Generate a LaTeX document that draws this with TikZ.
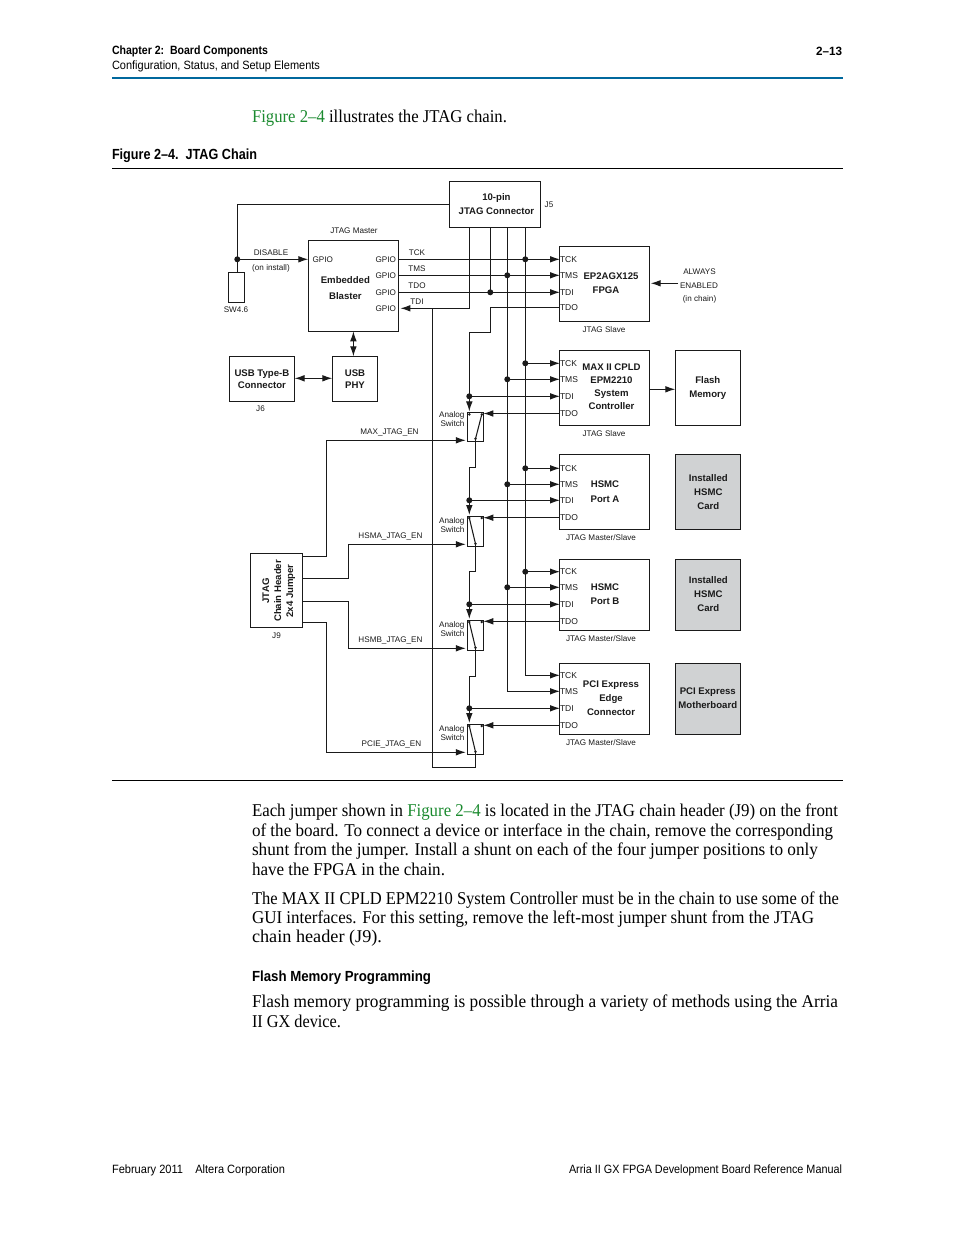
\documentclass[tikz,border=0pt]{standalone}
\usepackage{fontspec}
\usepackage{graphicx}
\usetikzlibrary{arrows.meta,calc}
\setmainfont{Liberation Serif}
\newfontfamily\dsans{Liberation Sans}
\definecolor{altblue}{HTML}{00689D}
\definecolor{altgreen}{HTML}{1B8A2F}
\definecolor{cardgray}{HTML}{D0D2D3}
\definecolor{ink}{HTML}{1A1A1A}
\newlength\pxu \setlength\pxu{0.75pt}
\newsavebox\fitbox \newlength\fitlen
\newcommand\fitw[2]{\sbox\fitbox{#2}\setlength\fitlen{\wd\fitbox}\pgfmathsetmacro\fitr{#1*0.75/\fitlen}\scalebox{\fitr}[1]{\usebox\fitbox}}
\tikzset{
  jbox/.style={draw=ink,line width=0.8pt,inner sep=0pt,outer sep=0pt,font=\dsans\bfseries\fontsize{7.2}{10.5}\selectfont,text=ink},
  card/.style={jbox,fill=cardgray},
  small/.style={inner sep=0pt,outer sep=0pt,font=\dsans\fontsize{6.1}{7}\selectfont,text=ink},
  pinlab/.style={small,font=\dsans\fontsize{6.4}{7}\selectfont,anchor=west},
  conn/.style={draw=ink,line width=0.8pt},
  arr/.style={conn,-{Latex[length=7.5pt,width=5pt]}},
  barr/.style={conn,{Latex[length=7.5pt,width=5pt]}-{Latex[length=7.5pt,width=5pt]}},
  body/.style={inner sep=0pt,outer sep=0pt,anchor=base west,font=\fontsize{13.5}{15}\selectfont,text=black},
  head/.style={inner sep=0pt,outer sep=0pt,font=\dsans\fontsize{9}{11}\selectfont,text=black},
  headb/.style={head,font=\dsans\bfseries\fontsize{9}{11}\selectfont},
  headl/.style={head,font=\dsans\bfseries\fontsize{11}{12}\selectfont}
}
\newcommand\off[3]{\raisebox{-#2\pxu}[0pt][0pt]{\raisebox{-2.6\pxu}[0pt][0pt]{\makebox[0pt]{\kern #1\pxu\kern #1\pxu\begin{tabular}{@{}c@{}}#3\end{tabular}}}}}
\newcommand\bx[6][jbox]{%
  \pgfmathsetmacro\bw{(#5-#3)*0.75}\pgfmathsetmacro\bh{(#6-#4)*0.75}%
  \pgfmathsetmacro\bcx{(#5+#3)/2}\pgfmathsetmacro\bcy{(#6+#4)/2}%
  \node[#1,minimum width=\bw pt,minimum height=\bh pt] (#2) at (\bcx,\bcy)}
\newcommand\jd[1]{\fill[ink] (#1) circle[radius=3];}
\newcommand\bodyln[4]{\node[body] (#1) at (252,#2) {\fitw{#3}{#4}};}
\newcommand\swt[4]{% name, y1, y2, contact the arm goes to
  \bx{#1}{467.3}{#2}{483.3}{#3}{};
  \coordinate (#1a) at (469.3,#2+1.7);
  \coordinate (#1b) at (481.8,#2+1.7);
  \coordinate (#1c) at (475.5,#3-2.5);
  \fill[ink] (#1a) circle[radius=1.4] (#1b) circle[radius=1.4] (#1c) circle[radius=1.4];
  \draw[conn] (#1c) -- (#1#4);
}
\begin{document}
\begin{tikzpicture}[x=0.75pt,y=-0.75pt]
\useasboundingbox (0,0) rectangle (954,1235);
% ---------- page furniture
\node[headb,anchor=west] (h1) at (112,51) {\fitw{156}{Chapter 2:\ \ Board Components}};
\node[headb,anchor=east] (h2) at (842,51) {\fitw{26}{2–13}};
\node[head,anchor=west] (h3) at (112,66) {\fitw{208}{Configuration, Status, and Setup Elements}};
\coordinate (ruleAL) at (112,78); \coordinate (ruleAR) at (843,78);
\draw[altblue,line width=1.6pt] (ruleAL) -- (ruleAR);
\node[body] (intro) at (252,122.5) {\fitw{255}{\textcolor{altgreen}{Figure 2–4} illustrates the JTAG chain.}};
\node[headl,anchor=west] (figt) at (112,156) {\fitw{145}{Figure 2–4.\ \ JTAG Chain}};
\coordinate (ruleBL) at (112,168.5); \coordinate (ruleBR) at (843,168.5);
\draw[black,line width=0.7pt] (ruleBL) -- (ruleBR);
\coordinate (ruleCL) at (112,780.5); \coordinate (ruleCR) at (843,780.5);
\draw[black,line width=0.7pt] (ruleCL) -- (ruleCR);
% ---------- boxes
\bx{conn10}{449.3}{181.3}{540.6}{227.3}{\off{1.5}{0}{10-pin\\JTAG Connector}};
\bx{blaster}{308.3}{240.7}{398.4}{331.3}{\off{-8}{2}{Embedded\\[2\pxu]Blaster}};
\bx{sw46}{228.7}{272.3}{244.7}{302.3}{};
\bx{usbb}{229.2}{356.3}{294.6}{401.7}{\off{0}{0}{USB Type-B\\[-2\pxu]Connector}};
\bx{usbphy}{332.3}{356.3}{377.7}{401.7}{\off{0}{0}{USB\\[-2\pxu]PHY}};
\bx{fpga}{559.3}{246.3}{649.7}{321.3}{\off{6.5}{-0.5}{EP2AGX125\\FPGA\hspace*{10\pxu}}};
\bx{maxii}{559.3}{350.3}{649.7}{425.3}{\off{7}{-0.5}{MAX II CPLD\\[-1\pxu]EPM2210\\[-1\pxu]System\\[-1\pxu]Controller}};
\bx{flash}{675.3}{350.3}{740.3}{425.3}{\off{0}{0}{Flash\\Memory}};
\bx{hsmca}{559.3}{454.7}{649.7}{529.3}{\off{0.5}{-0.5}{HSMC\\[1\pxu]Port A}};
\bx[card]{carda}{675.3}{454.7}{740.3}{529.3}{\off{0.5}{0}{Installed\\HSMC\\Card}};
\bx{hsmcb}{559.3}{559.3}{649.7}{630.3}{\off{0.5}{0}{HSMC\\Port B}};
\bx[card]{cardb}{675.3}{559.3}{740.3}{630.3}{\off{0.5}{0}{Installed\\HSMC\\Card}};
\bx{pcie}{559.3}{663.3}{649.7}{734.3}{\off{6.5}{0}{PCI Express\\Edge\\Connector}};
\bx[card]{cardp}{675.3}{663.3}{740.3}{734.3}{\off{0}{0}{PCI Express\\Motherboard}};
\bx{jnine}{250.3}{553.3}{302.3}{627.3}{\off{2}{2.5}{\rotatebox{90}{\begin{tabular}{@{}c@{}}JTAG\\[-2\pxu]Chain Header\\[-2\pxu]2x4 Jumper\end{tabular}}}};
% ---------- switches
\swt{sa}{412.7}{441.3}{b}
\swt{sb}{516.3}{546.3}{a}
\swt{sc}{620.3}{650.3}{a}
\swt{sd}{724.3}{754.3}{a}
% ---------- pins and small labels
\node[small,anchor=east] (bpTCK) at (396,259.3) {GPIO};
\node[small,anchor=east] (bpTMS) at (396,275.3) {GPIO};
\node[small,anchor=east] (bpTDO) at (396,292.3) {GPIO};
\node[small,anchor=east] (bpTDI) at (396,308.3) {GPIO};
\node[small,anchor=west] (bpIN) at (312.5,259.3) {GPIO};
\foreach \pfx/\a/\b/\c/\d in {f/259.3/275.3/292.3/307.7,m/363.3/379.3/396.3/413.5,a/468.3/484.3/500.3/517.7,b/571.7/587.3/604.3/621.3,p/675.3/691.3/708.3/725.3}{
  \node[pinlab] (\pfx TCK) at (560,\a) {TCK};
  \node[pinlab] (\pfx TMS) at (560,\b) {TMS};
  \node[pinlab] (\pfx TDI) at (560,\c) {TDI};
  \node[pinlab] (\pfx TDO) at (560,\d) {TDO};
}
\node[small] (lmaster) at (354,231) {JTAG Master};
\node[small] (ljfive) at (549,205) {J5};
\node[small] (ldis) at (271,253) {DISABLE};
\node[small] (linst) at (271,268) {(on install)};
\node[small] (lsw) at (236,310) {SW4.6};
\node[small] (ljsix) at (260.5,409) {J6};
\node[small] (ljnine) at (276.5,636) {J9};
\node[small] (ltck) at (417,253) {TCK};
\node[small] (ltms) at (417,268.5) {TMS};
\node[small] (ltdo) at (417,285.5) {TDO};
\node[small] (ltdi) at (417,301.5) {TDI};
\node[small] (lalw) at (699.5,272) {ALWAYS};
\node[small] (lena) at (699,285.5) {ENABLED};
\node[small] (lchn) at (699.5,299) {(in chain)};
\node[small] (sl1) at (604,330) {JTAG Slave};
\node[small] (sl2) at (604,434) {JTAG Slave};
\node[small] (sl3) at (601,538) {JTAG Master/Slave};
\node[small] (sl4) at (601,639) {JTAG Master/Slave};
\node[small] (sl5) at (601,743) {JTAG Master/Slave};
\node[small] (en1) at (389.5,432) {MAX\_JTAG\_EN};
\node[small] (en2) at (390.5,536) {HSMA\_JTAG\_EN};
\node[small] (en3) at (390.5,640) {HSMB\_JTAG\_EN};
\node[small] (en4) at (391.5,744) {PCIE\_JTAG\_EN};
\foreach \nm/\yy in {sa/414.5,sb/521,sc/625,sd/729}{
  \node[small,align=right,anchor=north east,font=\dsans\fontsize{6.1}{6.8}\selectfont] (an\nm) at (464.5,\yy-3) {Analog\\Switch};
}
% ---------- JTAG connector drops
\coordinate (cA) at (469.3,227.3);
\coordinate (cB) at (490.3,227.3);
\coordinate (cC) at (507.3,227.3);
\coordinate (cD) at (525.3,227.3);
% disable line
\coordinate (cW) at (237.3,204.3);
\draw[conn] (conn10.west |- cW) -- (cW) -- (cW |- sw46.north);
\draw[arr] (cW |- bpIN) -- (blaster.west |- bpIN);
\jd{cW |- bpIN}
% blaster signals
\draw[arr] (blaster.east |- bpTCK) -- (fTCK.west);
\draw[arr] (blaster.east |- bpTMS) -- (fTMS.west);
\draw[arr] (blaster.east |- bpTDO) -- (fTDI.west);
\draw[arr,shorten >=2\pxu] (cA) -- (cA |- bpTDI) -- (blaster.east |- bpTDI);
\draw[conn] (cB) -- (cB |- bpTDO);
\draw[arr] (cC) -- (cC |- pTMS) -- (pTMS.west);
\draw[arr] (cD) -- (cD |- pTCK) -- (pTCK.west);
\jd{cD |- fTCK} \jd{cC |- fTMS} \jd{cB |- fTDI}
% branches to devices
\foreach \pfx in {m,a,b}{
  \draw[arr] (cD |- \pfx TCK) -- (\pfx TCK.west);
  \draw[arr] (cC |- \pfx TMS) -- (\pfx TMS.west);
  \jd{cD |- \pfx TCK} \jd{cC |- \pfx TMS}
}
% chain through switches
\coordinate (jogF) at (490.3,332.3);
\coordinate (jogA) at (469.3,332.3);
\coordinate (jogB) at (469.3,467.7);
\coordinate (jogC) at (469.3,571.3);
\coordinate (jogD) at (469.3,676.3);
\draw[arr,shorten >=3\pxu] (fTDO.west) -- (jogF |- fTDO) -- (jogF) -- (jogA) -- (saa);
\draw[arr,shorten >=3\pxu] (sac) -- (sac |- jogB) -- (jogB) -- (sba);
\draw[arr,shorten >=3\pxu] (sbc) -- (sbc |- jogC) -- (jogC) -- (sca);
\draw[arr,shorten >=3\pxu] (scc) -- (scc |- jogD) -- (jogD) -- (sda);
\foreach \pfx/\sw in {m/sa,a/sb,b/sc,p/sd}{
  \draw[arr] (\sw a |- \pfx TDI) -- (\pfx TDI.west);
  \jd{\sw a |- \pfx TDI}
  \draw[arr] (\pfx TDO.west) -- (\sw.east |- \pfx TDO);
}
% return to blaster TDI
\coordinate (back) at (432.7,767.3);
\draw[conn] (back |- bpTDI) -- (back) -- (sdc |- back) -- (sdc);
% enable lines
\coordinate (jA) at (302.3,556.3); \coordinate (jB) at (302.3,578.3);
\coordinate (jC) at (302.3,601.3); \coordinate (jD) at (302.3,622.3);
\coordinate (enA) at (326.7,440.3); \coordinate (enB) at (348.3,544.3);
\coordinate (enC) at (348.3,648.3); \coordinate (enD) at (326.7,752.3);
\draw[arr,shorten >=1.5\pxu] (jA) -- (jA -| enA) -- (enA) -- (sa.west |- enA);
\draw[arr,shorten >=1.5\pxu] (jB) -- (jB -| enB) -- (enB) -- (sb.west |- enB);
\draw[arr,shorten >=1.5\pxu] (jC) -- (jC -| enC) -- (enC) -- (sc.west |- enC);
\draw[arr,shorten >=1.5\pxu] (jD) -- (jD -| enD) -- (enD) -- (sd.west |- enD);
% remaining arrows
\coordinate (bq) at (353.4,340);
\draw[barr] (bq |- blaster.south) -- (bq |- usbphy.north);
\coordinate (uq) at (300,378.3);
\draw[barr] (usbb.east |- uq) -- (usbphy.west |- uq);
\coordinate (aq) at (678,283.3);
\draw[arr,shorten >=1\pxu] (aq) -- (fpga.east |- aq);
\coordinate (fq) at (660,389.3);
\draw[arr] (maxii.east |- fq) -- (flash.west |- fq);
% ---------- body text
\bodyln{p1}{816.5}{586}{Each jumper shown in \textcolor{altgreen}{Figure 2–4} is located in the JTAG chain header (J9) on the front}
\bodyln{p2}{836}{581}{of the board. To connect a device or interface in the chain, remove the corresponding}
\bodyln{p3}{855.5}{566}{shunt from the jumper. Install a shunt on each of the four jumper positions to only}
\bodyln{p4}{875}{193}{have the FPGA in the chain.}
\bodyln{p5}{904}{587}{The MAX II CPLD EPM2210 System Controller must be in the chain to use some of the}
\bodyln{p6}{923}{562}{GUI interfaces. For this setting, remove the left-most jumper shunt from the JTAG}
\bodyln{p7}{942.5}{130}{chain header (J9).}
\node[headl,anchor=west] (flashh) at (252,978) {\fitw{179}{Flash Memory Programming}};
\bodyln{p8}{1007.5}{586}{Flash memory programming is possible through a variety of methods using the Arria}
\bodyln{p9}{1027}{89}{II GX device.}
% ---------- footer
\node[head,anchor=west] (foot1) at (112,1170) {\fitw{173}{February 2011\ \ \ \ Altera Corporation}};
\node[head,anchor=east] (foot2) at (842,1170) {\fitw{273}{Arria II GX FPGA Development Board Reference Manual}};
\end{tikzpicture}
\end{document}
